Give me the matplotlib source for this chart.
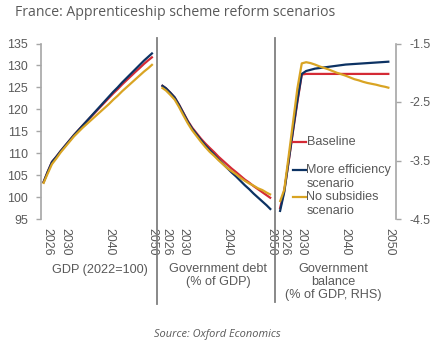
import numpy as np
import matplotlib
matplotlib.use("Agg")
import matplotlib.pyplot as plt
from matplotlib.transforms import blended_transform_factory
from matplotlib.lines import Line2D

years = list(range(2025, 2051))
tick_years = [2026, 2030, 2040, 2050]
series_names = ["Baseline", "More efficiency\nscenario", "No subsidies\nscenario"]
panel_titles = ["GDP (2022=100)", "Government debt\n(% of GDP)", "Government\nbalance\n(% of GDP, RHS)"]

gdp_eff = [103.2, 105.7, 108.0, 109.2, 110.5, 111.7, 112.9, 114.1, 115.2, 116.3, 117.4, 118.5, 119.6,
           120.7, 121.8, 122.9, 124.0, 125.0, 126.1, 127.1, 128.1, 129.1, 130.1, 131.1, 132.0, 132.9]
gdp_base = [103.2, 105.7, 108.0, 109.2, 110.5, 111.7, 112.9, 114.1, 115.2, 116.3, 117.35, 118.4, 119.45,
            120.5, 121.55, 122.6, 123.65, 124.6, 125.65, 126.6, 127.55, 128.5, 129.4, 130.35, 131.2, 132.0]
gdp_nosub = [103.0, 105.3, 107.5, 108.8, 110.2, 111.4, 112.6, 113.8, 114.8, 115.8, 116.7, 117.6, 118.5,
             119.4, 120.3, 121.2, 122.2, 123.1, 124.1, 125.0, 125.9, 126.8, 127.7, 128.6, 129.4, 130.3]

debt_eff = [125.5, 124.8, 123.8, 122.7, 121.0, 119.1, 117.2, 115.6, 114.3, 113.0, 111.8, 110.7, 109.7,
            108.6, 107.6, 106.6, 105.6, 104.7, 103.7, 102.7, 101.8, 100.8, 99.9, 99.0, 98.1, 97.1]
debt_base = [125.5, 124.8, 123.8, 122.7, 121.05, 119.2, 117.35, 115.8, 114.55, 113.3, 112.2, 111.2, 110.25,
             109.2, 108.3, 107.4, 106.5, 105.7, 104.85, 104.0, 103.3, 102.5, 101.8, 101.1, 100.4, 99.7]
debt_nosub = [125.0, 124.3, 123.3, 122.2, 120.5, 118.6, 116.8, 115.2, 113.9, 112.6, 111.4, 110.3, 109.4,
              108.4, 107.5, 106.6, 105.9, 105.2, 104.4, 103.7, 103.1, 102.6, 102.0, 101.6, 101.0, 100.5]

bal_eff = [-4.38, -4.04, -3.51, -2.98, -2.47, -2.02, -1.97, -1.95, -1.93, -1.92, -1.91, -1.90, -1.89,
           -1.88, -1.87, -1.86, -1.855, -1.85, -1.845, -1.84, -1.835, -1.83, -1.825, -1.82, -1.815, -1.81]
bal_base = [-4.33, -4.02, -3.52, -3.0, -2.5, -2.03, -2.02, -2.02, -2.02, -2.02, -2.02, -2.02, -2.02,
            -2.02, -2.02, -2.02, -2.02, -2.02, -2.02, -2.02, -2.02, -2.02, -2.02, -2.02, -2.02, -2.02]
bal_nosub = [-4.21, -4.0, -3.43, -2.85, -2.27, -1.84, -1.82, -1.835, -1.86, -1.89, -1.915, -1.94, -1.97,
             -2.0, -2.025, -2.05, -2.08, -2.11, -2.13, -2.155, -2.175, -2.19, -2.205, -2.225, -2.24, -2.26]

colors = ["#d42a35", "#0c3263", "#d9a423"]
text_col = "#595959"
spine_col = "#a6a6a6"
sep_col = "#7f7f7f"

plt.rcParams['font.family'] = ['Liberation Sans', 'DejaVu Sans']

W, H = 434, 343
fig = plt.figure(figsize=(W / 100, H / 100), dpi=100)
ax = fig.add_axes([41 / W, 1 - 219 / H, (396 - 41) / W, (219 - 43.5) / H])
ax2 = ax.twinx()

slot = 27  # 26 years + 1 blank category per panel
yrs = np.array(years)


def xpos(panel, yr):
    return panel * slot + (np.asarray(yr) - years[0])


for vals, c in zip([gdp_base, gdp_eff, gdp_nosub], colors):
    ax.plot(xpos(0, yrs), vals, color=c, lw=1.6, solid_capstyle='butt')
for vals, c in zip([debt_base, debt_eff, debt_nosub], colors):
    ax.plot(xpos(1, yrs), vals, color=c, lw=1.6, solid_capstyle='butt')
for vals, c in zip([bal_base, bal_eff, bal_nosub], colors):
    ax2.plot(xpos(2, yrs), vals, color=c, lw=1.6, solid_capstyle='butt')

ax.set_xlim(-0.5, 3 * slot - 0.5)
ax.set_ylim(95, 135)
ax.set_yticks(np.arange(95, 136, 5))
ax2.set_ylim(-4.5, -1.5)
ax2.set_yticks([-4.5, -3.5, -2.5, -1.5])
ax2.set_yticklabels(["-4.5", "-3.5", "-2.5", "-1.5"])

tpos = [xpos(p, y) for p in range(3) for y in tick_years]
tlab = [str(y) for p in range(3) for y in tick_years]
ax.set_xticks(tpos)
ax.set_xticklabels(tlab, rotation=-90, va='top', ha='center')
ax.tick_params(axis='x', length=0, pad=6.5, labelsize=8.9, labelcolor=text_col)
ax.tick_params(axis='y', length=3.5, width=1, color=spine_col, pad=6, labelsize=8.9, labelcolor=text_col)
ax2.tick_params(axis='y', length=3.5, width=1, color=spine_col, pad=6, labelsize=8.9, labelcolor=text_col)

for a in (ax, ax2):
    for s in ("top", "bottom"):
        a.spines[s].set_visible(False)
ax.spines["right"].set_visible(False)
ax2.spines["left"].set_visible(False)
ax.spines["left"].set_color(spine_col)
ax.spines["left"].set_linewidth(1.2)
ax2.spines["right"].set_color(spine_col)
ax2.spines["right"].set_linewidth(1.2)

# panel separators
tr = blended_transform_factory(ax.transData, fig.transFigure)
for p, ybot in [(1, 304), (2, 302)]:
    xs = p * slot - 1
    ax.plot([xs, xs], [1 - 38 / H, 1 - ybot / H], color=sep_col, lw=1.3,
            transform=tr, clip_on=False)

# panel titles
title_x = [100, 218, 333]
for tx, t in zip(title_x, panel_titles):
    fig.text(tx / W, 1 - 263.5 / H, t, ha='center', va='top', fontsize=9.1,
             color=text_col, linespacing=1.1)

# legend (manual)
leg_items = [(141.7, series_names[0], colors[0]),
             (169.5, series_names[1], colors[1]),
             (197.0, series_names[2], colors[2])]
for ly, lab, c in leg_items:
    fig.add_artist(Line2D([292.7 / W, 306 / W], [1 - ly / H, 1 - ly / H], color=c, lw=1.6))
    fig.text(306.5 / W, 1 - (ly - 5.5) / H, lab, ha='left', va='top', fontsize=9.1,
             color=text_col, linespacing=1.2)

fig.text(15 / W, 1 - 12 / H, "France: Apprenticeship scheme reform scenarios", ha='left',
         va='center', fontsize=10.1, color=text_col, family=['Open Sans', 'DejaVu Sans'])
fig.text(217.5 / W, 1 - 335 / H, "Source: Oxford Economics", ha='center', va='center',
         fontsize=7.9, color=text_col, style='italic', family=['Open Sans', 'DejaVu Sans'])

fig.savefig("out.png", dpi=100)
